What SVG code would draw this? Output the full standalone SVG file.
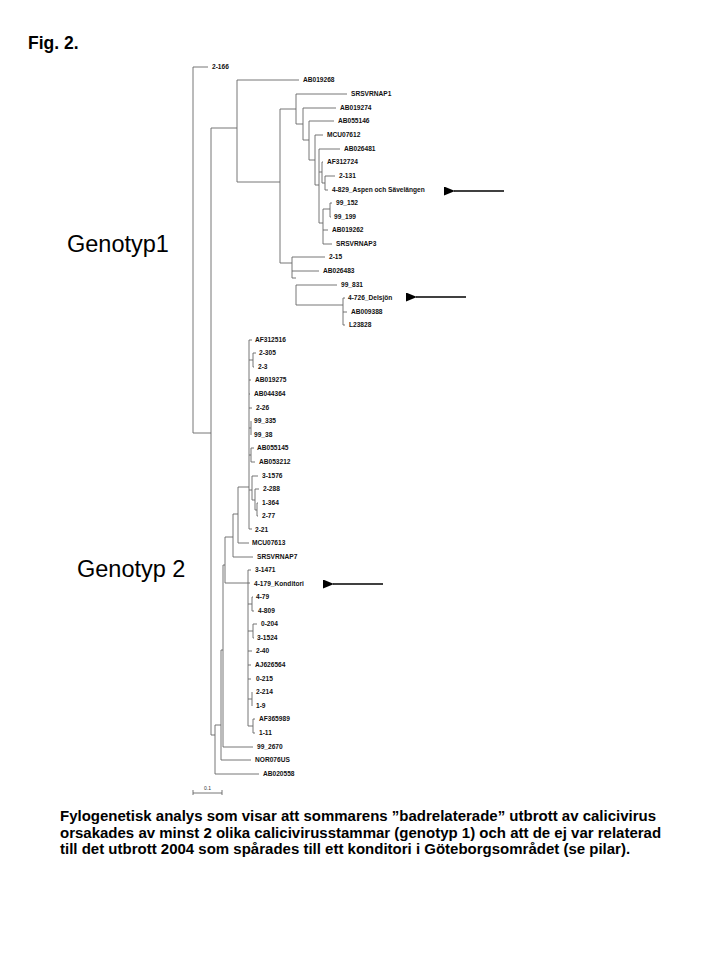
<svg xmlns="http://www.w3.org/2000/svg" width="720" height="960" viewBox="0 0 720 960">
<defs>
<style>
.t{font-family:"Liberation Sans",Arial,sans-serif;font-weight:bold;font-size:6.6px;fill:#111}
.br{fill:none;stroke:#666;stroke-width:0.9}
.ar{stroke:#000;stroke-width:1.6;fill:none}
.big{font-family:"Liberation Sans",Arial,sans-serif;font-size:23.5px;fill:#000}
.cap{font-family:"Liberation Sans",Arial,sans-serif;font-weight:bold;font-size:15px;fill:#000}
</style>
<marker id="ah" viewBox="0 0 11 9" refX="1" refY="4.5" markerWidth="11" markerHeight="9" markerUnits="userSpaceOnUse" orient="auto-start-reverse">
<path d="M0,4.5 L11,0 L11,9 Z" fill="#000"/>
</marker>
</defs>
<rect width="720" height="960" fill="#fff"/>
<text x="28" y="49" font-family="Liberation Sans,Arial,sans-serif" font-weight="bold" font-size="17.5">Fig. 2.</text>

<g id="connectors" class="br">
<!-- root -->
<path d="M193,67 V433 M193,67 H208 M193,433 H211"/>
<path d="M211,128 V735 M211,128 H237 M211,735 H215"/>
<!-- genotype 1 -->
<path d="M237,80 V182 M237,80 H299 M237,182 H280"/>
<path d="M280,109 V263 M280,109 H296 M280,263 H292"/>
<path d="M296,94 V124 M296,94 H347 M296,124 H303"/>
<path d="M303,108 V140 M303,108 H336 M303,140 H309"/>
<path d="M309,121 V160 M309,121 H334 M309,160 H315"/>
<path d="M315,135 V185 M315,135 H323 M315,185 H319"/>
<path d="M319,149 V223 M319,149 H340 M319,172 H322 M319,223 H323"/>
<path d="M322,162 V183 M322,162 H323 M322,183 H325"/>
<path d="M325,176 V190 M325,176 H335 M325,190 H328"/>
<path d="M323,209 V244 M323,209 H330 M323,230 H328 M323,244 H332"/>
<path d="M330,203 V217 M330,203 H332 M330,217 H331"/>
<path d="M292,257 V278 M292,257 H325 M292,271 H319 M292,278 H296"/>
<path d="M296,285 V305 M296,285 H337 M296,305 H343"/>
<path d="M343,298 V325 M343,298 H345 M343,312 H347 M343,325 H345"/>
<!-- genotype 2 -->
<path d="M215,725 V774 M215,725 H221 M215,774 H259"/>
<path d="M221,650 V760 M221,650 H223 M221,760 H251"/>
<path d="M223,565 V747 M223,565 H225 M223,747 H253"/>
<path d="M225,537 V583 M225,537 H233 M225,583 H248"/>
<path d="M233,514 V557 M233,514 H238 M233,557 H253"/>
<path d="M238,487 V543 M238,487 H249 M238,543 H249"/>
<path d="M249,340 V529 M249,340 H252 M249,360 H253 M249,380 H251 M249,394 H250 M249,408 H252 M249,428 H251 M249,455 H251 M249,490 H252 M249,529 H252"/>
<path d="M253,353 V367 M253,353 H256 M253,367 H254"/>
<path d="M251,421 V435 M251,448 V462 M251,448 H254 M251,462 H255"/>
<path d="M252,476 V500 M252,476 H258 M252,500 H255 M255,489 V510 M255,489 H259 M255,510 H257 M257,503 V516 M257,503 H258 M257,516 H258"/>
<path d="M248,570 V726 M248,570 H251 M248,583 H250 M248,604 H252 M248,631 H253 M248,651 H252 M248,665 H251 M248,679 H251 M248,699 H252 M248,726 H253"/>
<path d="M252,597 V611 M252,597 H253 M252,611 H254 M253,624 V638 M253,624 H257 M253,638 H254 M252,692 V706 M253,719 V733 M253,719 H255 M253,733 H255"/>
<!-- scale bar -->
<path d="M193,793 H222 M193,790 V795 M222,790 V795"/>
</g>

<g id="arrows">
<path class="ar" d="M504,191 H454" marker-end="url(#ah)"/>
<path class="ar" d="M466,297 H416" marker-end="url(#ah)"/>
<path class="ar" d="M383,584 H333" marker-end="url(#ah)"/>
</g>

<g id="leaves" class="t">
<g id="n-2-166"><text x="212" y="69.3">2-166</text></g>
<g id="n-AB019268"><text x="303" y="82.3">AB019268</text></g>
<g id="n-SRSVRNAP1"><text x="351" y="96.3">SRSVRNAP1</text></g>
<g id="n-AB019274"><text x="340" y="110.3">AB019274</text></g>
<g id="n-AB055146"><text x="338" y="123.3">AB055146</text></g>
<g id="n-MCU07612"><text x="327" y="137.3">MCU07612</text></g>
<g id="n-AB026481"><text x="344" y="151.3">AB026481</text></g>
<g id="n-AF312724"><text x="327" y="164.3">AF312724</text></g>
<g id="n-2-131"><text x="339" y="178.3">2-131</text></g>
<g id="n-4-829"><text x="332" y="192.3">4-829_Aspen och Sävelängen</text></g>
<g id="n-99_152"><text x="336" y="205.3">99_152</text></g>
<g id="n-99_199"><text x="334" y="219.3">99_199</text></g>
<g id="n-AB019262"><text x="332" y="232.3">AB019262</text></g>
<g id="n-SRSVRNAP3"><text x="336" y="246.3">SRSVRNAP3</text></g>
<g id="n-2-15"><text x="329" y="259.3">2-15</text></g>
<g id="n-AB026483"><text x="323" y="273.3">AB026483</text></g>
<g id="n-99_831"><text x="341" y="287.3">99_831</text></g>
<g id="n-4-726"><text x="348" y="300.3">4-726_Delsjön</text></g>
<g id="n-AB009388"><text x="351" y="314.3">AB009388</text></g>
<g id="n-L23828"><text x="349" y="327.3">L23828</text></g>
<g id="n-AF312516"><text x="255" y="342.3">AF312516</text></g>
<g id="n-2-305"><text x="259" y="355.3">2-305</text></g>
<g id="n-2-3"><text x="258" y="369.3">2-3</text></g>
<g id="n-AB019275"><text x="255" y="382.3">AB019275</text></g>
<g id="n-AB044364"><text x="254" y="396.3">AB044364</text></g>
<g id="n-2-26"><text x="256" y="410.3">2-26</text></g>
<g id="n-99_335"><text x="254" y="423.3">99_335</text></g>
<g id="n-99_38"><text x="254" y="437.3">99_38</text></g>
<g id="n-AB055145"><text x="257" y="450.3">AB055145</text></g>
<g id="n-AB053212"><text x="259" y="464.3">AB053212</text></g>
<g id="n-3-1576"><text x="262" y="478.3">3-1576</text></g>
<g id="n-2-288"><text x="263" y="491.3">2-288</text></g>
<g id="n-1-364"><text x="262" y="505.3">1-364</text></g>
<g id="n-2-77"><text x="262" y="518.3">2-77</text></g>
<g id="n-2-21"><text x="255" y="532.3">2-21</text></g>
<g id="n-MCU07613"><text x="252" y="545.3">MCU07613</text></g>
<g id="n-SRSVRNAP7"><text x="257" y="559.3">SRSVRNAP7</text></g>
<g id="n-3-1471"><text x="255" y="572.3">3-1471</text></g>
<g id="n-4-179"><text x="254" y="586.3">4-179_Konditori</text></g>
<g id="n-4-79"><text x="256" y="599.3">4-79</text></g>
<g id="n-4-809"><text x="258" y="613.3">4-809</text></g>
<g id="n-0-204"><text x="261" y="626.3">0-204</text></g>
<g id="n-3-1524"><text x="257" y="640.3">3-1524</text></g>
<g id="n-2-40"><text x="256" y="653.3">2-40</text></g>
<g id="n-AJ626564"><text x="255" y="667.3">AJ626564</text></g>
<g id="n-0-215"><text x="256" y="681.3">0-215</text></g>
<g id="n-2-214"><text x="256" y="694.3">2-214</text></g>
<g id="n-1-9"><text x="256" y="708.3">1-9</text></g>
<g id="n-AF365989"><text x="259" y="721.3">AF365989</text></g>
<g id="n-1-11"><text x="259" y="735.3">1-11</text></g>
<g id="n-99_2670"><text x="257" y="749.3">99_2670</text></g>
<g id="n-NOR076US"><text x="255" y="762.3">NOR076US</text></g>
<g id="n-AB020558"><text x="263" y="776.3">AB020558</text></g>
</g>

<text x="204" y="790" font-family="Liberation Sans,Arial,sans-serif" font-size="5" fill="#333">0.1</text>

<g id="genotype-labels">
<text class="big" x="67" y="252">Genotyp1</text>
<text class="big" x="77" y="577">Genotyp 2</text>
</g>

<g id="caption" class="cap">
<text x="60" y="821">Fylogenetisk analys som visar att sommarens ”badrelaterade” utbrott av calicivirus</text>
<text x="60" y="837.5">orsakades av minst 2 olika calicivirusstammar (genotyp 1) och att de ej var relaterad</text>
<text x="60" y="854">till det utbrott 2004 som spårades till ett konditori i Göteborgsområdet (se pilar).</text>
</g>
</svg>
